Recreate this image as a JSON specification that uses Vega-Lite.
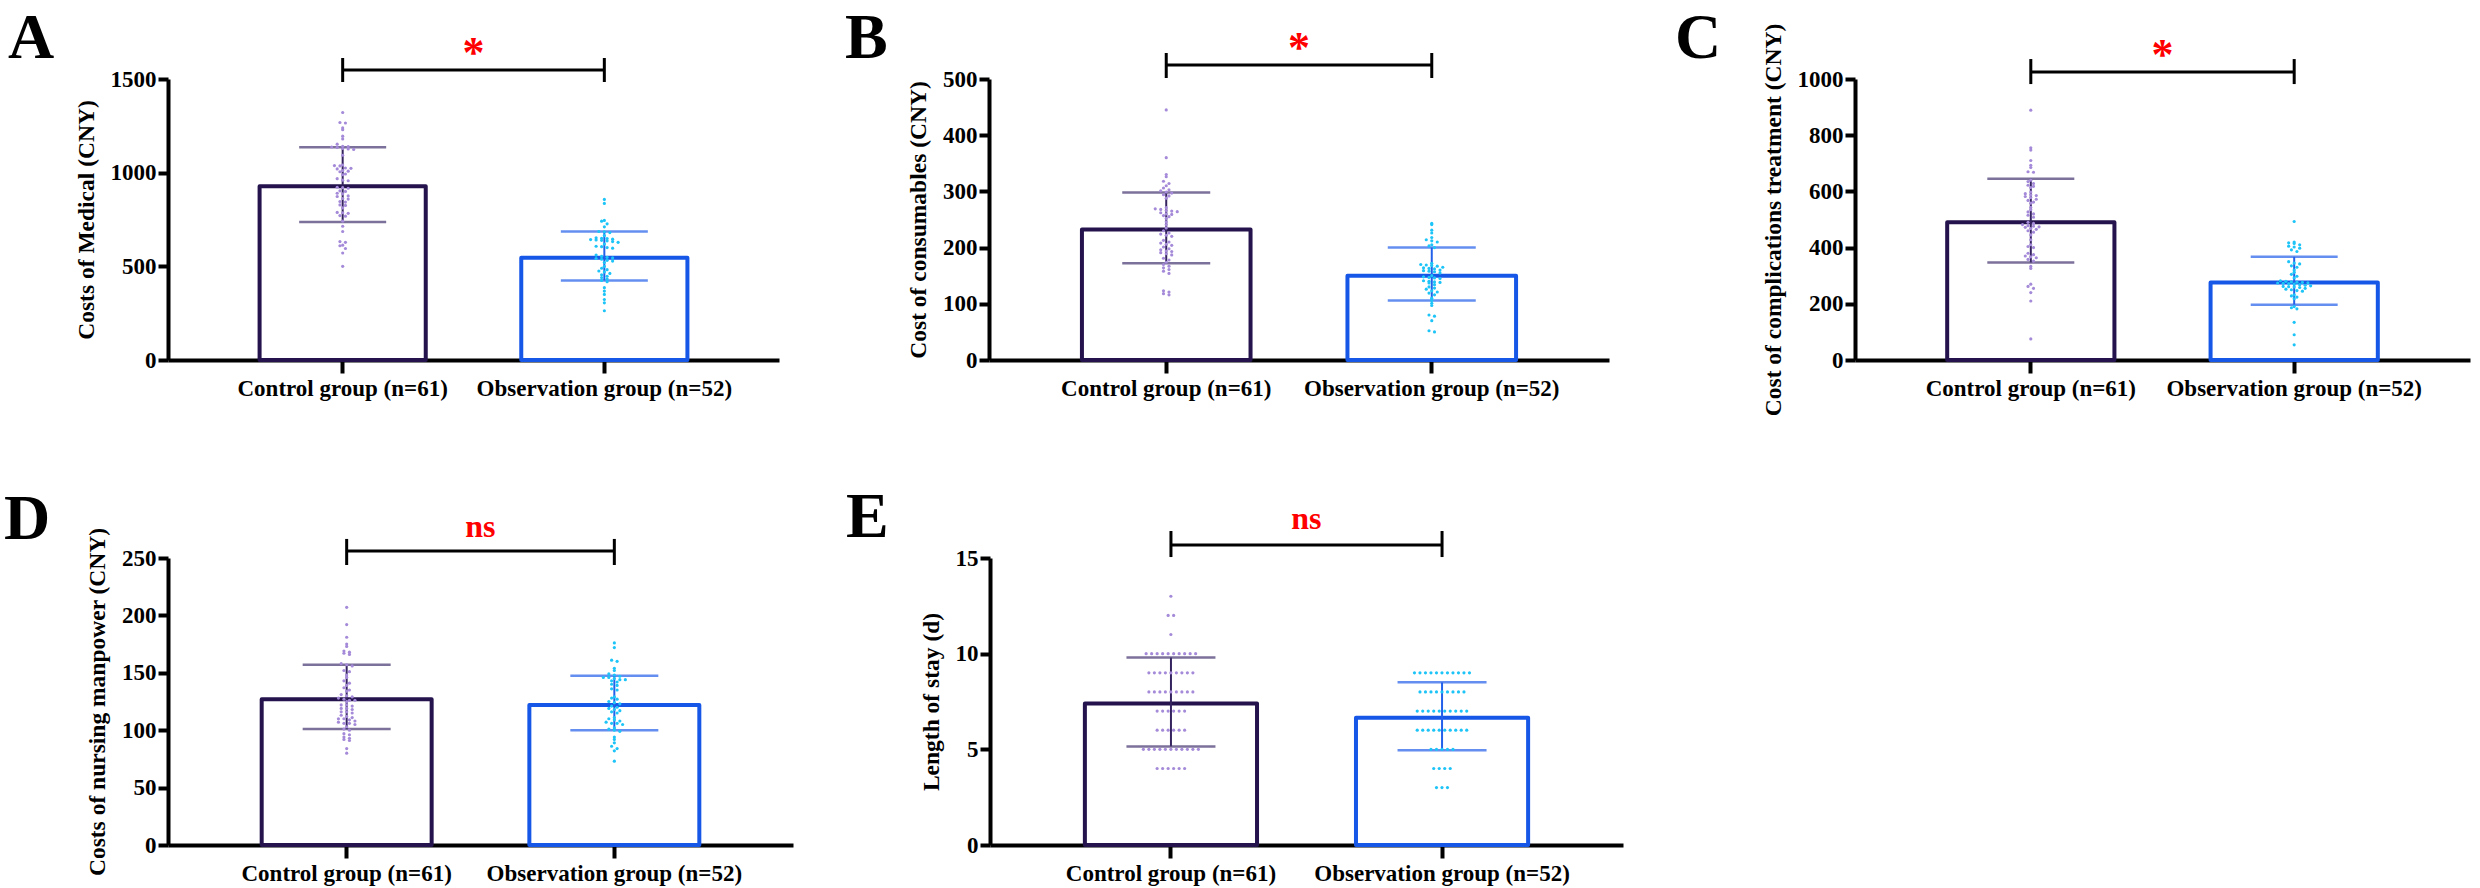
{
  "$schema": "https://vega.github.io/schema/vega-lite/v6.json",
  "background": "white",
  "padding": {"left": 4, "top": 7, "right": 2, "bottom": 3},
  "datasets": {
    "summ": [
      {"p": "A", "g": "Control", "mean": 928, "lo": 736, "hi": 1136},
      {"p": "A", "g": "Observation", "mean": 546, "lo": 425, "hi": 686},
      {"p": "B", "g": "Control", "mean": 232, "lo": 172, "hi": 298},
      {"p": "B", "g": "Observation", "mean": 150, "lo": 106, "hi": 200},
      {"p": "C", "g": "Control", "mean": 490, "lo": 347, "hi": 645},
      {"p": "C", "g": "Observation", "mean": 276, "lo": 197, "hi": 367},
      {"p": "D", "g": "Control", "mean": 127, "lo": 101, "hi": 157},
      {"p": "D", "g": "Observation", "mean": 122, "lo": 100, "hi": 147.5},
      {"p": "E", "g": "Control", "mean": 7.4, "lo": 5.15, "hi": 9.8},
      {"p": "E", "g": "Observation", "mean": 6.65, "lo": 4.95, "hi": 8.5}
    ],
    "ends": [{"g": "Control"}, {"g": "Observation"}],
    "A": [
      {"g": "Control", "v": 1321}, {"g": "Control", "v": 1268}, {"g": "Control", "v": 1265}, {"g": "Control", "v": 1239},
      {"g": "Control", "v": 1229}, {"g": "Control", "v": 1195}, {"g": "Control", "v": 1180}, {"g": "Control", "v": 1152},
      {"g": "Control", "v": 1141}, {"g": "Control", "v": 1139}, {"g": "Control", "v": 1137}, {"g": "Control", "v": 1135},
      {"g": "Control", "v": 1129}, {"g": "Control", "v": 1127}, {"g": "Control", "v": 1124}, {"g": "Control", "v": 1093},
      {"g": "Control", "v": 1041}, {"g": "Control", "v": 1038}, {"g": "Control", "v": 1036}, {"g": "Control", "v": 1025},
      {"g": "Control", "v": 1023}, {"g": "Control", "v": 1020}, {"g": "Control", "v": 1011}, {"g": "Control", "v": 1008},
      {"g": "Control", "v": 1005}, {"g": "Control", "v": 993}, {"g": "Control", "v": 989}, {"g": "Control", "v": 968},
      {"g": "Control", "v": 960}, {"g": "Control", "v": 957}, {"g": "Control", "v": 922}, {"g": "Control", "v": 920},
      {"g": "Control", "v": 917}, {"g": "Control", "v": 903}, {"g": "Control", "v": 900}, {"g": "Control", "v": 890},
      {"g": "Control", "v": 887}, {"g": "Control", "v": 876}, {"g": "Control", "v": 873}, {"g": "Control", "v": 862},
      {"g": "Control", "v": 859}, {"g": "Control", "v": 846}, {"g": "Control", "v": 843}, {"g": "Control", "v": 828},
      {"g": "Control", "v": 825}, {"g": "Control", "v": 812}, {"g": "Control", "v": 788}, {"g": "Control", "v": 786},
      {"g": "Control", "v": 783}, {"g": "Control", "v": 771}, {"g": "Control", "v": 768}, {"g": "Control", "v": 741},
      {"g": "Control", "v": 714}, {"g": "Control", "v": 686}, {"g": "Control", "v": 632}, {"g": "Control", "v": 628},
      {"g": "Control", "v": 613}, {"g": "Control", "v": 610}, {"g": "Control", "v": 595}, {"g": "Control", "v": 571},
      {"g": "Control", "v": 500},
      {"g": "Observation", "v": 857}, {"g": "Observation", "v": 836}, {"g": "Observation", "v": 745}, {"g": "Observation", "v": 741},
      {"g": "Observation", "v": 727}, {"g": "Observation", "v": 711}, {"g": "Observation", "v": 686}, {"g": "Observation", "v": 684},
      {"g": "Observation", "v": 680}, {"g": "Observation", "v": 664}, {"g": "Observation", "v": 652}, {"g": "Observation", "v": 650},
      {"g": "Observation", "v": 648}, {"g": "Observation", "v": 645}, {"g": "Observation", "v": 643}, {"g": "Observation", "v": 641},
      {"g": "Observation", "v": 639}, {"g": "Observation", "v": 636}, {"g": "Observation", "v": 632}, {"g": "Observation", "v": 628},
      {"g": "Observation", "v": 619}, {"g": "Observation", "v": 607}, {"g": "Observation", "v": 605}, {"g": "Observation", "v": 600},
      {"g": "Observation", "v": 597}, {"g": "Observation", "v": 560}, {"g": "Observation", "v": 553}, {"g": "Observation", "v": 548},
      {"g": "Observation", "v": 545}, {"g": "Observation", "v": 542}, {"g": "Observation", "v": 538}, {"g": "Observation", "v": 532},
      {"g": "Observation", "v": 528}, {"g": "Observation", "v": 520}, {"g": "Observation", "v": 500}, {"g": "Observation", "v": 490},
      {"g": "Observation", "v": 482}, {"g": "Observation", "v": 475}, {"g": "Observation", "v": 470}, {"g": "Observation", "v": 462},
      {"g": "Observation", "v": 455}, {"g": "Observation", "v": 447}, {"g": "Observation", "v": 440}, {"g": "Observation", "v": 432},
      {"g": "Observation", "v": 425}, {"g": "Observation", "v": 418}, {"g": "Observation", "v": 386}, {"g": "Observation", "v": 368},
      {"g": "Observation", "v": 350}, {"g": "Observation", "v": 323}, {"g": "Observation", "v": 305}, {"g": "Observation", "v": 263}
    ],
    "B": [
      {"g": "Control", "v": 445}, {"g": "Control", "v": 360}, {"g": "Control", "v": 330}, {"g": "Control", "v": 326},
      {"g": "Control", "v": 318}, {"g": "Control", "v": 314}, {"g": "Control", "v": 310}, {"g": "Control", "v": 306},
      {"g": "Control", "v": 303}, {"g": "Control", "v": 301}, {"g": "Control", "v": 299}, {"g": "Control", "v": 297},
      {"g": "Control", "v": 294}, {"g": "Control", "v": 292}, {"g": "Control", "v": 288}, {"g": "Control", "v": 271},
      {"g": "Control", "v": 269}, {"g": "Control", "v": 268}, {"g": "Control", "v": 266}, {"g": "Control", "v": 265},
      {"g": "Control", "v": 264}, {"g": "Control", "v": 262}, {"g": "Control", "v": 260}, {"g": "Control", "v": 259},
      {"g": "Control", "v": 257}, {"g": "Control", "v": 255}, {"g": "Control", "v": 252}, {"g": "Control", "v": 246},
      {"g": "Control", "v": 241}, {"g": "Control", "v": 235}, {"g": "Control", "v": 230}, {"g": "Control", "v": 226},
      {"g": "Control", "v": 224}, {"g": "Control", "v": 222}, {"g": "Control", "v": 220}, {"g": "Control", "v": 213},
      {"g": "Control", "v": 210}, {"g": "Control", "v": 208}, {"g": "Control", "v": 206}, {"g": "Control", "v": 204},
      {"g": "Control", "v": 201}, {"g": "Control", "v": 198}, {"g": "Control", "v": 196}, {"g": "Control", "v": 194},
      {"g": "Control", "v": 193}, {"g": "Control", "v": 191}, {"g": "Control", "v": 189}, {"g": "Control", "v": 187},
      {"g": "Control", "v": 181}, {"g": "Control", "v": 178}, {"g": "Control", "v": 174}, {"g": "Control", "v": 170},
      {"g": "Control", "v": 167}, {"g": "Control", "v": 164}, {"g": "Control", "v": 161}, {"g": "Control", "v": 158},
      {"g": "Control", "v": 154}, {"g": "Control", "v": 123}, {"g": "Control", "v": 121}, {"g": "Control", "v": 118},
      {"g": "Control", "v": 116},
      {"g": "Observation", "v": 243}, {"g": "Observation", "v": 241}, {"g": "Observation", "v": 231}, {"g": "Observation", "v": 226},
      {"g": "Observation", "v": 218}, {"g": "Observation", "v": 214}, {"g": "Observation", "v": 212}, {"g": "Observation", "v": 210},
      {"g": "Observation", "v": 205}, {"g": "Observation", "v": 203}, {"g": "Observation", "v": 200}, {"g": "Observation", "v": 172},
      {"g": "Observation", "v": 170}, {"g": "Observation", "v": 169}, {"g": "Observation", "v": 168}, {"g": "Observation", "v": 167},
      {"g": "Observation", "v": 165}, {"g": "Observation", "v": 164}, {"g": "Observation", "v": 163}, {"g": "Observation", "v": 162},
      {"g": "Observation", "v": 160}, {"g": "Observation", "v": 159}, {"g": "Observation", "v": 158}, {"g": "Observation", "v": 157},
      {"g": "Observation", "v": 155}, {"g": "Observation", "v": 150}, {"g": "Observation", "v": 148}, {"g": "Observation", "v": 147},
      {"g": "Observation", "v": 146}, {"g": "Observation", "v": 145}, {"g": "Observation", "v": 141}, {"g": "Observation", "v": 140},
      {"g": "Observation", "v": 139}, {"g": "Observation", "v": 138}, {"g": "Observation", "v": 137}, {"g": "Observation", "v": 134},
      {"g": "Observation", "v": 130}, {"g": "Observation", "v": 128}, {"g": "Observation", "v": 126}, {"g": "Observation", "v": 123},
      {"g": "Observation", "v": 121}, {"g": "Observation", "v": 119}, {"g": "Observation", "v": 116}, {"g": "Observation", "v": 110},
      {"g": "Observation", "v": 106}, {"g": "Observation", "v": 101}, {"g": "Observation", "v": 97}, {"g": "Observation", "v": 80},
      {"g": "Observation", "v": 78}, {"g": "Observation", "v": 70}, {"g": "Observation", "v": 52}, {"g": "Observation", "v": 50}
    ],
    "C": [
      {"g": "Control", "v": 889}, {"g": "Control", "v": 755}, {"g": "Control", "v": 747}, {"g": "Control", "v": 710},
      {"g": "Control", "v": 693}, {"g": "Control", "v": 685}, {"g": "Control", "v": 670}, {"g": "Control", "v": 668},
      {"g": "Control", "v": 640}, {"g": "Control", "v": 635}, {"g": "Control", "v": 628}, {"g": "Control", "v": 622},
      {"g": "Control", "v": 618}, {"g": "Control", "v": 614}, {"g": "Control", "v": 598}, {"g": "Control", "v": 592},
      {"g": "Control", "v": 588}, {"g": "Control", "v": 585}, {"g": "Control", "v": 582}, {"g": "Control", "v": 578},
      {"g": "Control", "v": 572}, {"g": "Control", "v": 568}, {"g": "Control", "v": 562}, {"g": "Control", "v": 558},
      {"g": "Control", "v": 543}, {"g": "Control", "v": 535}, {"g": "Control", "v": 527}, {"g": "Control", "v": 520},
      {"g": "Control", "v": 515}, {"g": "Control", "v": 508}, {"g": "Control", "v": 490}, {"g": "Control", "v": 486},
      {"g": "Control", "v": 482}, {"g": "Control", "v": 478}, {"g": "Control", "v": 476}, {"g": "Control", "v": 474},
      {"g": "Control", "v": 472}, {"g": "Control", "v": 468}, {"g": "Control", "v": 465}, {"g": "Control", "v": 460},
      {"g": "Control", "v": 455}, {"g": "Control", "v": 445}, {"g": "Control", "v": 428}, {"g": "Control", "v": 410},
      {"g": "Control", "v": 404}, {"g": "Control", "v": 400}, {"g": "Control", "v": 380}, {"g": "Control", "v": 375},
      {"g": "Control", "v": 370}, {"g": "Control", "v": 367}, {"g": "Control", "v": 364}, {"g": "Control", "v": 358},
      {"g": "Control", "v": 352}, {"g": "Control", "v": 333}, {"g": "Control", "v": 326}, {"g": "Control", "v": 270},
      {"g": "Control", "v": 262}, {"g": "Control", "v": 255}, {"g": "Control", "v": 240}, {"g": "Control", "v": 210},
      {"g": "Control", "v": 75},
      {"g": "Observation", "v": 493}, {"g": "Observation", "v": 420}, {"g": "Observation", "v": 417}, {"g": "Observation", "v": 415},
      {"g": "Observation", "v": 410}, {"g": "Observation", "v": 405}, {"g": "Observation", "v": 402}, {"g": "Observation", "v": 398},
      {"g": "Observation", "v": 392}, {"g": "Observation", "v": 386}, {"g": "Observation", "v": 350}, {"g": "Observation", "v": 345},
      {"g": "Observation", "v": 342}, {"g": "Observation", "v": 335}, {"g": "Observation", "v": 330}, {"g": "Observation", "v": 320},
      {"g": "Observation", "v": 312}, {"g": "Observation", "v": 305}, {"g": "Observation", "v": 298}, {"g": "Observation", "v": 292},
      {"g": "Observation", "v": 282}, {"g": "Observation", "v": 280}, {"g": "Observation", "v": 278}, {"g": "Observation", "v": 277},
      {"g": "Observation", "v": 276}, {"g": "Observation", "v": 275}, {"g": "Observation", "v": 274}, {"g": "Observation", "v": 273},
      {"g": "Observation", "v": 272}, {"g": "Observation", "v": 270}, {"g": "Observation", "v": 268}, {"g": "Observation", "v": 266},
      {"g": "Observation", "v": 264}, {"g": "Observation", "v": 262}, {"g": "Observation", "v": 261}, {"g": "Observation", "v": 260},
      {"g": "Observation", "v": 258}, {"g": "Observation", "v": 255}, {"g": "Observation", "v": 252}, {"g": "Observation", "v": 250},
      {"g": "Observation", "v": 247}, {"g": "Observation", "v": 245}, {"g": "Observation", "v": 232}, {"g": "Observation", "v": 228},
      {"g": "Observation", "v": 224}, {"g": "Observation", "v": 218}, {"g": "Observation", "v": 190}, {"g": "Observation", "v": 186},
      {"g": "Observation", "v": 182}, {"g": "Observation", "v": 134}, {"g": "Observation", "v": 90}, {"g": "Observation", "v": 54}
    ],
    "D": [
      {"g": "Control", "v": 207}, {"g": "Control", "v": 192}, {"g": "Control", "v": 181}, {"g": "Control", "v": 175},
      {"g": "Control", "v": 173}, {"g": "Control", "v": 169}, {"g": "Control", "v": 168}, {"g": "Control", "v": 167},
      {"g": "Control", "v": 166}, {"g": "Control", "v": 158}, {"g": "Control", "v": 157}, {"g": "Control", "v": 156},
      {"g": "Control", "v": 152}, {"g": "Control", "v": 151}, {"g": "Control", "v": 148}, {"g": "Control", "v": 146},
      {"g": "Control", "v": 143}, {"g": "Control", "v": 141}, {"g": "Control", "v": 139}, {"g": "Control", "v": 137},
      {"g": "Control", "v": 135}, {"g": "Control", "v": 134}, {"g": "Control", "v": 131}, {"g": "Control", "v": 130},
      {"g": "Control", "v": 129}, {"g": "Control", "v": 128}, {"g": "Control", "v": 127}, {"g": "Control", "v": 126},
      {"g": "Control", "v": 126}, {"g": "Control", "v": 125}, {"g": "Control", "v": 122}, {"g": "Control", "v": 122},
      {"g": "Control", "v": 121}, {"g": "Control", "v": 119}, {"g": "Control", "v": 119}, {"g": "Control", "v": 118},
      {"g": "Control", "v": 116}, {"g": "Control", "v": 116}, {"g": "Control", "v": 115}, {"g": "Control", "v": 113},
      {"g": "Control", "v": 112}, {"g": "Control", "v": 111}, {"g": "Control", "v": 110}, {"g": "Control", "v": 110},
      {"g": "Control", "v": 109}, {"g": "Control", "v": 108}, {"g": "Control", "v": 107}, {"g": "Control", "v": 106},
      {"g": "Control", "v": 106}, {"g": "Control", "v": 105}, {"g": "Control", "v": 103}, {"g": "Control", "v": 101},
      {"g": "Control", "v": 100}, {"g": "Control", "v": 97}, {"g": "Control", "v": 96}, {"g": "Control", "v": 94},
      {"g": "Control", "v": 93}, {"g": "Control", "v": 92}, {"g": "Control", "v": 91}, {"g": "Control", "v": 84},
      {"g": "Control", "v": 80},
      {"g": "Observation", "v": 176}, {"g": "Observation", "v": 172}, {"g": "Observation", "v": 161}, {"g": "Observation", "v": 160},
      {"g": "Observation", "v": 154}, {"g": "Observation", "v": 152}, {"g": "Observation", "v": 149}, {"g": "Observation", "v": 148},
      {"g": "Observation", "v": 147}, {"g": "Observation", "v": 146}, {"g": "Observation", "v": 146}, {"g": "Observation", "v": 145},
      {"g": "Observation", "v": 144}, {"g": "Observation", "v": 144}, {"g": "Observation", "v": 143}, {"g": "Observation", "v": 142},
      {"g": "Observation", "v": 140}, {"g": "Observation", "v": 139}, {"g": "Observation", "v": 136}, {"g": "Observation", "v": 135},
      {"g": "Observation", "v": 129}, {"g": "Observation", "v": 128}, {"g": "Observation", "v": 127}, {"g": "Observation", "v": 125},
      {"g": "Observation", "v": 124}, {"g": "Observation", "v": 123}, {"g": "Observation", "v": 121}, {"g": "Observation", "v": 120},
      {"g": "Observation", "v": 119}, {"g": "Observation", "v": 118}, {"g": "Observation", "v": 117}, {"g": "Observation", "v": 116},
      {"g": "Observation", "v": 115}, {"g": "Observation", "v": 111}, {"g": "Observation", "v": 110}, {"g": "Observation", "v": 109},
      {"g": "Observation", "v": 108}, {"g": "Observation", "v": 107}, {"g": "Observation", "v": 106}, {"g": "Observation", "v": 106},
      {"g": "Observation", "v": 105}, {"g": "Observation", "v": 102}, {"g": "Observation", "v": 101}, {"g": "Observation", "v": 100},
      {"g": "Observation", "v": 99}, {"g": "Observation", "v": 94}, {"g": "Observation", "v": 92}, {"g": "Observation", "v": 89},
      {"g": "Observation", "v": 86}, {"g": "Observation", "v": 84}, {"g": "Observation", "v": 82}, {"g": "Observation", "v": 73}
    ],
    "E": [
      {"g": "Control", "v": 13}, {"g": "Control", "v": 12}, {"g": "Control", "v": 12}, {"g": "Control", "v": 11},
      {"g": "Control", "v": 10}, {"g": "Control", "v": 10}, {"g": "Control", "v": 10}, {"g": "Control", "v": 10},
      {"g": "Control", "v": 10}, {"g": "Control", "v": 10}, {"g": "Control", "v": 10}, {"g": "Control", "v": 10},
      {"g": "Control", "v": 10}, {"g": "Control", "v": 10},
      {"g": "Control", "v": 9}, {"g": "Control", "v": 9}, {"g": "Control", "v": 9}, {"g": "Control", "v": 9},
      {"g": "Control", "v": 9}, {"g": "Control", "v": 9}, {"g": "Control", "v": 9}, {"g": "Control", "v": 9},
      {"g": "Control", "v": 9},
      {"g": "Control", "v": 8}, {"g": "Control", "v": 8}, {"g": "Control", "v": 8}, {"g": "Control", "v": 8},
      {"g": "Control", "v": 8}, {"g": "Control", "v": 8}, {"g": "Control", "v": 8}, {"g": "Control", "v": 8},
      {"g": "Control", "v": 8},
      {"g": "Control", "v": 7}, {"g": "Control", "v": 7}, {"g": "Control", "v": 7}, {"g": "Control", "v": 7},
      {"g": "Control", "v": 7}, {"g": "Control", "v": 7},
      {"g": "Control", "v": 6}, {"g": "Control", "v": 6}, {"g": "Control", "v": 6}, {"g": "Control", "v": 6},
      {"g": "Control", "v": 6}, {"g": "Control", "v": 6},
      {"g": "Control", "v": 5}, {"g": "Control", "v": 5}, {"g": "Control", "v": 5}, {"g": "Control", "v": 5},
      {"g": "Control", "v": 5}, {"g": "Control", "v": 5}, {"g": "Control", "v": 5}, {"g": "Control", "v": 5},
      {"g": "Control", "v": 5}, {"g": "Control", "v": 5}, {"g": "Control", "v": 5},
      {"g": "Control", "v": 4}, {"g": "Control", "v": 4}, {"g": "Control", "v": 4}, {"g": "Control", "v": 4},
      {"g": "Control", "v": 4}, {"g": "Control", "v": 4},
      {"g": "Observation", "v": 9}, {"g": "Observation", "v": 9}, {"g": "Observation", "v": 9}, {"g": "Observation", "v": 9},
      {"g": "Observation", "v": 9}, {"g": "Observation", "v": 9}, {"g": "Observation", "v": 9}, {"g": "Observation", "v": 9},
      {"g": "Observation", "v": 9}, {"g": "Observation", "v": 9}, {"g": "Observation", "v": 9},
      {"g": "Observation", "v": 8}, {"g": "Observation", "v": 8}, {"g": "Observation", "v": 8}, {"g": "Observation", "v": 8},
      {"g": "Observation", "v": 8}, {"g": "Observation", "v": 8}, {"g": "Observation", "v": 8}, {"g": "Observation", "v": 8},
      {"g": "Observation", "v": 8},
      {"g": "Observation", "v": 7}, {"g": "Observation", "v": 7}, {"g": "Observation", "v": 7}, {"g": "Observation", "v": 7},
      {"g": "Observation", "v": 7}, {"g": "Observation", "v": 7}, {"g": "Observation", "v": 7}, {"g": "Observation", "v": 7},
      {"g": "Observation", "v": 7}, {"g": "Observation", "v": 7},
      {"g": "Observation", "v": 6}, {"g": "Observation", "v": 6}, {"g": "Observation", "v": 6}, {"g": "Observation", "v": 6},
      {"g": "Observation", "v": 6}, {"g": "Observation", "v": 6}, {"g": "Observation", "v": 6}, {"g": "Observation", "v": 6},
      {"g": "Observation", "v": 6}, {"g": "Observation", "v": 6},
      {"g": "Observation", "v": 5}, {"g": "Observation", "v": 5}, {"g": "Observation", "v": 5}, {"g": "Observation", "v": 5},
      {"g": "Observation", "v": 5},
      {"g": "Observation", "v": 4}, {"g": "Observation", "v": 4}, {"g": "Observation", "v": 4}, {"g": "Observation", "v": 4},
      {"g": "Observation", "v": 3}, {"g": "Observation", "v": 3}, {"g": "Observation", "v": 3}
    ]
  },
  "vconcat": [
    {
      "spacing": 66,
      "hconcat": [
        {
          "width": 611, "height": 281,
          "title": {"text": "A", "anchor": "start", "frame": "group", "baseline": "alphabetic", "offset": -90.5, "dx": -160, "fontSize": 64, "font": "Liberation Serif", "fontWeight": "bold", "color": "black"},
          "resolve": {"scale": {"xOffset": "independent"}},
          "encoding": {"x": {"field": "g", "type": "nominal", "scale": {"domain": ["Control", "Observation"], "paddingInner": 0.365, "paddingOuter": 0.35}, "axis": {"labelExpr": "datum.value == 'Control' ? 'Control group (n=61)' : 'Observation group (n=52)'"}}},
          "layer": [
            {"data": {"name": "summ"}, "transform": [{"filter": "datum.p == 'A'"}],
             "mark": {"type": "bar", "fill": "white", "strokeWidth": 4, "strokeJoin": "round"},
             "encoding": {"y": {"field": "mean", "type": "quantitative", "title": "Costs of Medical (CNY)", "scale": {"domain": [0, 1500], "nice": false}, "axis": {"values": [0, 500, 1000, 1500], "format": "d"}},
               "stroke": {"condition": {"test": "datum.g == 'Control'", "value": "#24134D"}, "value": "#1657E8"}}},
            {"data": {"name": "summ"}, "transform": [{"filter": "datum.p == 'A'"}],
             "mark": {"type": "rule", "strokeWidth": 2},
             "encoding": {"y": {"field": "lo", "type": "quantitative", "title": "Costs of Medical (CNY)"}, "y2": {"field": "hi"},
               "color": {"condition": {"test": "datum.g == 'Control'", "value": "#34235F"}, "value": "#2260EA"}}},
            {"data": {"name": "summ"}, "transform": [{"filter": "datum.p == 'A'"}, {"fold": ["lo", "hi"], "as": ["end", "val"]}],
             "mark": {"type": "tick", "size": 87, "thickness": 2.5},
             "encoding": {"y": {"field": "val", "type": "quantitative", "title": "Costs of Medical (CNY)"},
               "color": {"condition": {"test": "datum.g == 'Control'", "value": "#45346F"}, "value": "#2260EA"}}},
            {"data": {"name": "A"},
             "transform": [{"calculate": "floor(datum.v / 16.5)", "as": "bin"}, {"window": [{"op": "row_number", "as": "k"}, {"op": "count", "as": "n"}], "groupby": ["g", "bin"], "frame": [null, null]}, {"calculate": "(datum.k - (datum.n + 1) / 2) * 5.5", "as": "off"}],
             "mark": {"type": "circle", "size": 10, "opacity": 1},
             "encoding": {"y": {"field": "v", "type": "quantitative", "title": "Costs of Medical (CNY)"},
               "xOffset": {"field": "off", "type": "quantitative", "scale": {"domain": [-83.1, 83.1], "range": [0, 166.2]}},
               "color": {"condition": {"test": "datum.g == 'Control'", "value": "#A48AD8"}, "value": "#1DC4F7"}}},
            {"data": {"name": "ends"}, "mark": {"type": "rule", "strokeWidth": 3, "color": "black"},
             "encoding": {"y": {"datum": 1484}, "y2": {"datum": 1612}}},
            {"data": {"name": "ends"}, "mark": {"type": "line", "strokeWidth": 3, "color": "black"},
             "encoding": {"y": {"datum": 1548}}},
            {"data": {"values": [{}]}, "mark": {"type": "text", "text": "*", "fontSize": 44, "font": "Liberation Serif", "fontWeight": "bold", "color": "#FF0000", "baseline": "alphabetic", "align": "center"},
             "encoding": {"x": {"datum": "Control", "bandPosition": 1.287}, "y": {"datum": 1566}}}
          ]
        },
        {
          "width": 620, "height": 281,
          "title": {"text": "B", "anchor": "start", "frame": "group", "baseline": "alphabetic", "offset": -95.5, "dx": -144, "fontSize": 64, "font": "Liberation Serif", "fontWeight": "bold", "color": "black"},
          "resolve": {"scale": {"xOffset": "independent"}},
          "encoding": {"x": {"field": "g", "type": "nominal", "scale": {"domain": ["Control", "Observation"], "paddingInner": 0.365, "paddingOuter": 0.35}, "axis": {"labelExpr": "datum.value == 'Control' ? 'Control group (n=61)' : 'Observation group (n=52)'"}}},
          "layer": [
            {"data": {"name": "summ"}, "transform": [{"filter": "datum.p == 'B'"}],
             "mark": {"type": "bar", "fill": "white", "strokeWidth": 4, "strokeJoin": "round"},
             "encoding": {"y": {"field": "mean", "type": "quantitative", "title": "Cost of consumables (CNY)", "scale": {"domain": [0, 500], "nice": false}, "axis": {"values": [0, 100, 200, 300, 400, 500], "format": "d"}},
               "stroke": {"condition": {"test": "datum.g == 'Control'", "value": "#24134D"}, "value": "#1657E8"}}},
            {"data": {"name": "summ"}, "transform": [{"filter": "datum.p == 'B'"}],
             "mark": {"type": "rule", "strokeWidth": 2},
             "encoding": {"y": {"field": "lo", "type": "quantitative", "title": "Cost of consumables (CNY)"}, "y2": {"field": "hi"},
               "color": {"condition": {"test": "datum.g == 'Control'", "value": "#34235F"}, "value": "#2260EA"}}},
            {"data": {"name": "summ"}, "transform": [{"filter": "datum.p == 'B'"}, {"fold": ["lo", "hi"], "as": ["end", "val"]}],
             "mark": {"type": "tick", "size": 88, "thickness": 2.5},
             "encoding": {"y": {"field": "val", "type": "quantitative", "title": "Cost of consumables (CNY)"},
               "color": {"condition": {"test": "datum.g == 'Control'", "value": "#45346F"}, "value": "#2260EA"}}},
            {"data": {"name": "B"},
             "transform": [{"calculate": "floor(datum.v / 5.5)", "as": "bin"}, {"window": [{"op": "row_number", "as": "k"}, {"op": "count", "as": "n"}], "groupby": ["g", "bin"], "frame": [null, null]}, {"calculate": "(datum.k - (datum.n + 1) / 2) * 5.5", "as": "off"}],
             "mark": {"type": "circle", "size": 10, "opacity": 1},
             "encoding": {"y": {"field": "v", "type": "quantitative", "title": "Cost of consumables (CNY)"},
               "xOffset": {"field": "off", "type": "quantitative", "scale": {"domain": [-84.3, 84.3], "range": [0, 168.6]}},
               "color": {"condition": {"test": "datum.g == 'Control'", "value": "#A48AD8"}, "value": "#1DC4F7"}}},
            {"data": {"name": "ends"}, "mark": {"type": "rule", "strokeWidth": 3, "color": "black"},
             "encoding": {"y": {"datum": 501.8}, "y2": {"datum": 546.3}}},
            {"data": {"name": "ends"}, "mark": {"type": "line", "strokeWidth": 3, "color": "black"},
             "encoding": {"y": {"datum": 524.9}}},
            {"data": {"values": [{}]}, "mark": {"type": "text", "text": "*", "fontSize": 44, "font": "Liberation Serif", "fontWeight": "bold", "color": "#FF0000", "baseline": "alphabetic", "align": "center"},
             "encoding": {"x": {"datum": "Control", "bandPosition": 1.287}, "y": {"datum": 530.8}}}
          ]
        },
        {
          "width": 615, "height": 281,
          "title": {"text": "C", "anchor": "start", "frame": "group", "baseline": "alphabetic", "offset": -99, "dx": -180, "fontSize": 64, "font": "Liberation Serif", "fontWeight": "bold", "color": "black"},
          "resolve": {"scale": {"xOffset": "independent"}},
          "encoding": {"x": {"field": "g", "type": "nominal", "scale": {"domain": ["Control", "Observation"], "paddingInner": 0.365, "paddingOuter": 0.35}, "axis": {"labelExpr": "datum.value == 'Control' ? 'Control group (n=61)' : 'Observation group (n=52)'"}}},
          "layer": [
            {"data": {"name": "summ"}, "transform": [{"filter": "datum.p == 'C'"}],
             "mark": {"type": "bar", "fill": "white", "strokeWidth": 4, "strokeJoin": "round"},
             "encoding": {"y": {"field": "mean", "type": "quantitative", "title": "Cost of complications treatment (CNY)", "scale": {"domain": [0, 1000], "nice": false}, "axis": {"values": [0, 200, 400, 600, 800, 1000], "format": "d"}},
               "stroke": {"condition": {"test": "datum.g == 'Control'", "value": "#24134D"}, "value": "#1657E8"}}},
            {"data": {"name": "summ"}, "transform": [{"filter": "datum.p == 'C'"}],
             "mark": {"type": "rule", "strokeWidth": 2},
             "encoding": {"y": {"field": "lo", "type": "quantitative", "title": "Cost of complications treatment (CNY)"}, "y2": {"field": "hi"},
               "color": {"condition": {"test": "datum.g == 'Control'", "value": "#34235F"}, "value": "#2260EA"}}},
            {"data": {"name": "summ"}, "transform": [{"filter": "datum.p == 'C'"}, {"fold": ["lo", "hi"], "as": ["end", "val"]}],
             "mark": {"type": "tick", "size": 87, "thickness": 2.5},
             "encoding": {"y": {"field": "val", "type": "quantitative", "title": "Cost of complications treatment (CNY)"},
               "color": {"condition": {"test": "datum.g == 'Control'", "value": "#45346F"}, "value": "#2260EA"}}},
            {"data": {"name": "C"},
             "transform": [{"calculate": "floor(datum.v / 11)", "as": "bin"}, {"window": [{"op": "row_number", "as": "k"}, {"op": "count", "as": "n"}], "groupby": ["g", "bin"], "frame": [null, null]}, {"calculate": "(datum.k - (datum.n + 1) / 2) * 5.5", "as": "off"}],
             "mark": {"type": "circle", "size": 10, "opacity": 1},
             "encoding": {"y": {"field": "v", "type": "quantitative", "title": "Cost of complications treatment (CNY)"},
               "xOffset": {"field": "off", "type": "quantitative", "scale": {"domain": [-83.6, 83.6], "range": [0, 167.2]}},
               "color": {"condition": {"test": "datum.g == 'Control'", "value": "#A48AD8"}, "value": "#1DC4F7"}}},
            {"data": {"name": "ends"}, "mark": {"type": "rule", "strokeWidth": 3, "color": "black"},
             "encoding": {"y": {"datum": 982}, "y2": {"datum": 1071}}},
            {"data": {"name": "ends"}, "mark": {"type": "line", "strokeWidth": 3, "color": "black"},
             "encoding": {"y": {"datum": 1025}}},
            {"data": {"values": [{}]}, "mark": {"type": "text", "text": "*", "fontSize": 44, "font": "Liberation Serif", "fontWeight": "bold", "color": "#FF0000", "baseline": "alphabetic", "align": "center"},
             "encoding": {"x": {"datum": "Control", "bandPosition": 1.287}, "y": {"datum": 1035}}}
          ]
        }
      ]
    },
    {
      "spacing": 53,
      "hconcat": [
        {
          "width": 625, "height": 287,
          "title": {"text": "D", "anchor": "start", "frame": "group", "baseline": "alphabetic", "offset": -91.6, "dx": -164, "fontSize": 64, "font": "Liberation Serif", "fontWeight": "bold", "color": "black"},
          "resolve": {"scale": {"xOffset": "independent"}},
          "encoding": {"x": {"field": "g", "type": "nominal", "scale": {"domain": ["Control", "Observation"], "paddingInner": 0.365, "paddingOuter": 0.35}, "axis": {"labelExpr": "datum.value == 'Control' ? 'Control group (n=61)' : 'Observation group (n=52)'"}}},
          "layer": [
            {"data": {"name": "summ"}, "transform": [{"filter": "datum.p == 'D'"}],
             "mark": {"type": "bar", "fill": "white", "strokeWidth": 4, "strokeJoin": "round"},
             "encoding": {"y": {"field": "mean", "type": "quantitative", "title": "Costs of nursing manpower (CNY)", "scale": {"domain": [0, 250], "nice": false}, "axis": {"values": [0, 50, 100, 150, 200, 250], "format": "d"}},
               "stroke": {"condition": {"test": "datum.g == 'Control'", "value": "#24134D"}, "value": "#1657E8"}}},
            {"data": {"name": "summ"}, "transform": [{"filter": "datum.p == 'D'"}],
             "mark": {"type": "rule", "strokeWidth": 2},
             "encoding": {"y": {"field": "lo", "type": "quantitative", "title": "Costs of nursing manpower (CNY)"}, "y2": {"field": "hi"},
               "color": {"condition": {"test": "datum.g == 'Control'", "value": "#34235F"}, "value": "#2260EA"}}},
            {"data": {"name": "summ"}, "transform": [{"filter": "datum.p == 'D'"}, {"fold": ["lo", "hi"], "as": ["end", "val"]}],
             "mark": {"type": "tick", "size": 88, "thickness": 2.5},
             "encoding": {"y": {"field": "val", "type": "quantitative", "title": "Costs of nursing manpower (CNY)"},
               "color": {"condition": {"test": "datum.g == 'Control'", "value": "#45346F"}, "value": "#2260EA"}}},
            {"data": {"name": "D"},
             "transform": [{"calculate": "floor(datum.v / 3)", "as": "bin"}, {"window": [{"op": "row_number", "as": "k"}, {"op": "count", "as": "n"}], "groupby": ["g", "bin"], "frame": [null, null]}, {"calculate": "(datum.k - (datum.n + 1) / 2) * 5.5", "as": "off"}],
             "mark": {"type": "circle", "size": 10, "opacity": 1},
             "encoding": {"y": {"field": "v", "type": "quantitative", "title": "Costs of nursing manpower (CNY)"},
               "xOffset": {"field": "off", "type": "quantitative", "scale": {"domain": [-85, 85], "range": [0, 170]}},
               "color": {"condition": {"test": "datum.g == 'Control'", "value": "#A48AD8"}, "value": "#1DC4F7"}}},
            {"data": {"name": "ends"}, "mark": {"type": "rule", "strokeWidth": 3, "color": "black"},
             "encoding": {"y": {"datum": 243.9}, "y2": {"datum": 266.6}}},
            {"data": {"name": "ends"}, "mark": {"type": "line", "strokeWidth": 3, "color": "black"},
             "encoding": {"y": {"datum": 256.1}}},
            {"data": {"values": [{}]}, "mark": {"type": "text", "text": "ns", "fontSize": 32, "font": "Liberation Serif", "fontWeight": "bold", "color": "#FF0000", "baseline": "alphabetic", "align": "center"},
             "encoding": {"x": {"datum": "Control", "bandPosition": 1.287}, "y": {"datum": 268.3}}}
          ]
        },
        {
          "width": 633, "height": 287,
          "title": {"text": "E", "anchor": "start", "frame": "group", "baseline": "alphabetic", "offset": -97.6, "dx": -144, "fontSize": 64, "font": "Liberation Serif", "fontWeight": "bold", "color": "black"},
          "resolve": {"scale": {"xOffset": "independent"}},
          "encoding": {"x": {"field": "g", "type": "nominal", "scale": {"domain": ["Control", "Observation"], "paddingInner": 0.365, "paddingOuter": 0.35}, "axis": {"labelExpr": "datum.value == 'Control' ? 'Control group (n=61)' : 'Observation group (n=52)'"}}},
          "layer": [
            {"data": {"name": "summ"}, "transform": [{"filter": "datum.p == 'E'"}],
             "mark": {"type": "bar", "fill": "white", "strokeWidth": 4, "strokeJoin": "round"},
             "encoding": {"y": {"field": "mean", "type": "quantitative", "title": "Length of stay (d)", "scale": {"domain": [0, 15], "nice": false}, "axis": {"values": [0, 5, 10, 15], "format": "d"}},
               "stroke": {"condition": {"test": "datum.g == 'Control'", "value": "#24134D"}, "value": "#1657E8"}}},
            {"data": {"name": "summ"}, "transform": [{"filter": "datum.p == 'E'"}],
             "mark": {"type": "rule", "strokeWidth": 2},
             "encoding": {"y": {"field": "lo", "type": "quantitative", "title": "Length of stay (d)"}, "y2": {"field": "hi"},
               "color": {"condition": {"test": "datum.g == 'Control'", "value": "#34235F"}, "value": "#2260EA"}}},
            {"data": {"name": "summ"}, "transform": [{"filter": "datum.p == 'E'"}, {"fold": ["lo", "hi"], "as": ["end", "val"]}],
             "mark": {"type": "tick", "size": 89, "thickness": 2.5},
             "encoding": {"y": {"field": "val", "type": "quantitative", "title": "Length of stay (d)"},
               "color": {"condition": {"test": "datum.g == 'Control'", "value": "#45346F"}, "value": "#2260EA"}}},
            {"data": {"name": "E"},
             "transform": [{"calculate": "floor(datum.v)", "as": "bin"}, {"window": [{"op": "row_number", "as": "k"}, {"op": "count", "as": "n"}], "groupby": ["g", "bin"], "frame": [null, null]}, {"calculate": "(datum.k - (datum.n + 1) / 2) * 5.5", "as": "off"}],
             "mark": {"type": "circle", "size": 10, "opacity": 1},
             "encoding": {"y": {"field": "v", "type": "quantitative", "title": "Length of stay (d)"},
               "xOffset": {"field": "off", "type": "quantitative", "scale": {"domain": [-86, 86], "range": [0, 172]}},
               "color": {"condition": {"test": "datum.g == 'Control'", "value": "#A48AD8"}, "value": "#1DC4F7"}}},
            {"data": {"name": "ends"}, "mark": {"type": "rule", "strokeWidth": 3, "color": "black"},
             "encoding": {"y": {"datum": 15.05}, "y2": {"datum": 16.41}}},
            {"data": {"name": "ends"}, "mark": {"type": "line", "strokeWidth": 3, "color": "black"},
             "encoding": {"y": {"datum": 15.68}}},
            {"data": {"values": [{}]}, "mark": {"type": "text", "text": "ns", "fontSize": 32, "font": "Liberation Serif", "fontWeight": "bold", "color": "#FF0000", "baseline": "alphabetic", "align": "center"},
             "encoding": {"x": {"datum": "Control", "bandPosition": 1.287}, "y": {"datum": 16.52}}}
          ]
        }
      ]
    }
  ],
  "spacing": 69,
  "config": {
    "view": {"stroke": null},
    "font": "Liberation Serif",
    "axis": {"grid": false, "domainColor": "black", "domainWidth": 4, "tickColor": "black", "tickWidth": 4, "labelFont": "Liberation Serif", "labelFontWeight": "bold", "labelFontSize": 23, "labelColor": "black", "titleFont": "Liberation Serif", "titleFontWeight": "bold", "titleFontSize": 23.5, "titleColor": "black"},
    "axisX": {"tickSize": 13, "labelPadding": 4, "labelAngle": 0, "title": null, "labelOverlap": false, "labelBound": false, "labelLimit": 0},
    "axisY": {"tickSize": 10, "labelPadding": 2, "titlePadding": 12}
  }
}
